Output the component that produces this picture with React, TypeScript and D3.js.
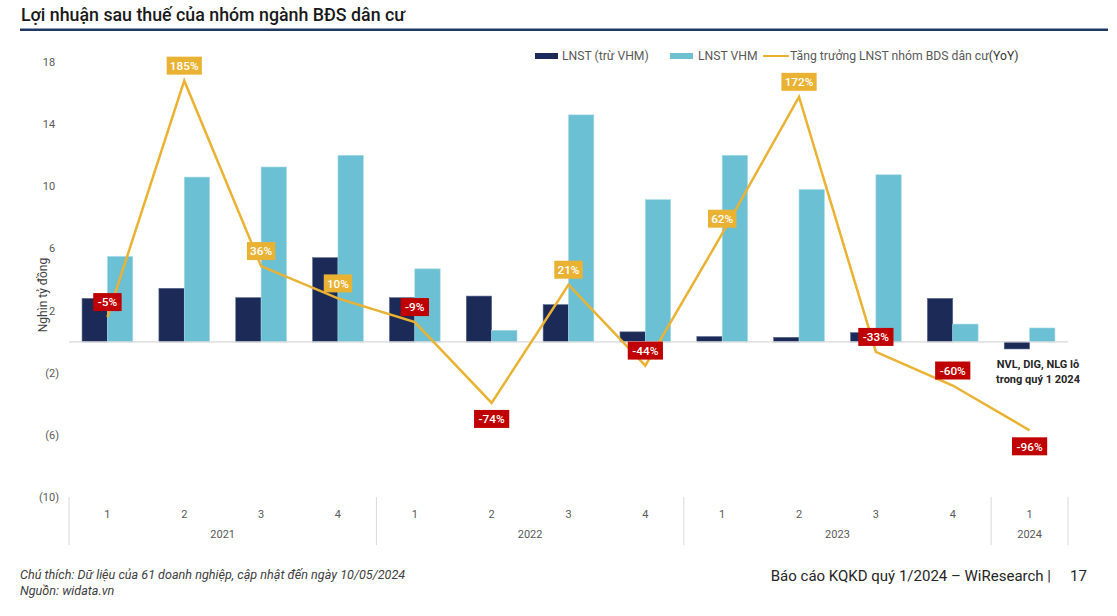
import React from "react";
import * as d3 from "d3";

const quarters = ["1", "2", "3", "4", "1", "2", "3", "4", "1", "2", "3", "4", "1"];
const years = ["2021", "2022", "2023", "2024"];
const yearOfQuarter = ["2021", "2021", "2021", "2021", "2022", "2022", "2022", "2022", "2023", "2023", "2023", "2023", "2024"];
const lnstExVHM = [2.8, 3.45, 2.85, 5.42, 2.85, 2.95, 2.4, 0.65, 0.35, 0.3, 0.6, 2.8, -0.45];
const lnstVHM = [5.5, 10.6, 11.25, 12.0, 4.7, 0.75, 14.6, 9.15, 12.0, 9.8, 10.75, 1.15, 0.9];
const growthYoY = [-5, 185, 36, 10, -9, -74, 21, -44, 62, 172, -33, -60, -96];
const growthLabelSide = ["above", "above", "above", "above", "above", "below", "above", "above", "above", "above", "above", "above", "below"];
const yTicks = [18, 14, 10, 6, 2, -2, -6, -10];

const seriesNames = ["LNST (trừ VHM)", "LNST VHM", "Tăng trưởng LNST nhóm BDS dân cư"];

const C_DARK = "#1C2A57";
const C_LIGHT = "#6CC0D3";
const C_GOLD = "#EAB233";
const C_RED = "#C00000";
const C_AXIS = "#595959";
const FONT = "Roboto, 'Liberation Sans', sans-serif";

export default function App() {
  const W = 1117;
  const H = 616;
  const x0 = 69;
  const x1 = 1068;
  const yTop = 62;
  const yBot = 497.5;

  const idx = quarters.map((_, i) => i);
  const x = d3.scaleBand<number>().domain(idx).range([x0, x1]).paddingInner(0).paddingOuter(0);
  const bw = x.bandwidth();
  const barW = bw * 0.33;
  const y = d3.scaleLinear().domain([-10, 18]).range([yBot, yTop]);
  const y2 = d3.scaleLinear().domain([-150, 200]).range([yBot, yTop]);
  const cx = (i: number) => (x(i) as number) + bw / 2;

  const line = d3
    .line<number>()
    .x((_, i) => cx(i))
    .y((d) => y2(d));

  const yearGroups = years.map((yr) => {
    const members = idx.filter((i) => yearOfQuarter[i] === yr);
    const start = x(members[0]) as number;
    const end = (x(members[members.length - 1]) as number) + bw;
    return { yr, start, end };
  });
  const separators = [x0, ...yearGroups.map((g) => g.end)];

  const fmtTick = (v: number) => (v < 0 ? `(${Math.abs(v)})` : `${v}`);

  return (
    <svg width={W} height={H} style={{ position: "absolute", left: 0, top: 0, background: "#fff" }} fontFamily={FONT}>
      {/* Title */}
      <text x={21} y={21} fontSize={17.8} fontWeight={500} fill="#1a1a1a">
        Lợi nhuận sau thuế của nhóm ngành BĐS dân cư
      </text>
      <rect x={20} y={28.5} width={1088} height={2.5} fill="#1F3864" />

      {/* Legend */}
      <g fontSize={12.2} fill={C_AXIS}>
        <rect x={535} y={53} width={23} height={6} fill={C_DARK} />
        <text x={562} y={60}>{seriesNames[0]}</text>
        <rect x={670} y={53} width={23} height={6} fill={C_LIGHT} />
        <text x={698} y={60}>{seriesNames[1]}</text>
        <line x1={763} x2={789} y1={56} y2={56} stroke={C_GOLD} strokeWidth={2} />
        <text x={790} y={60}>
          {seriesNames[2]}
          <tspan fill="#333">(YoY)</tspan>
        </text>
      </g>

      {/* Y axis ticks */}
      <g fontSize={11} fill={C_AXIS}>
        {yTicks.map((t) => (
          <text key={t} x={59} y={y(t)} dy="0.35em" textAnchor="end">
            {fmtTick(t)}
            {t >= 0 ? <tspan fillOpacity={0}>)</tspan> : null}
          </text>
        ))}
      </g>
      <text transform={`translate(47,${295}) rotate(-90)`} textAnchor="middle" fontSize={12} fill="#404040">
        Nghìn tỷ đồng
      </text>

      {/* Bars */}
      <g>
        {lnstExVHM.map((v, i) => (
          <rect
            key={"d" + i}
            x={cx(i) - barW}
            y={Math.min(y(v), y(0))}
            width={barW}
            height={Math.abs(y(v) - y(0))}
            fill={C_DARK}
            stroke="#5a6a8f"
            strokeWidth={0.6}
          />
        ))}
        {lnstVHM.map((v, i) => (
          <rect
            key={"l" + i}
            x={cx(i)}
            y={Math.min(y(v), y(0))}
            width={barW}
            height={Math.abs(y(v) - y(0))}
            fill={C_LIGHT}
            stroke="#a8dae6"
            strokeWidth={0.6}
          />
        ))}
      </g>

      {/* Zero line */}
      <line x1={x0} x2={x1} y1={y(0)} y2={y(0)} stroke="#D9D9D9" strokeWidth={1.2} />

      {/* Growth line */}
      <path d={line(growthYoY) || ""} fill="none" stroke={C_GOLD} strokeWidth={2.5} strokeLinejoin="miter" />

      {/* Growth labels */}
      <g fontSize={11.8} fontWeight={500} fill="#fff">
        {growthYoY.map((v, i) => {
          const txt = `${v}%`;
          const w = txt.length * 6.8 + 8;
          const h = 18;
          const py = y2(v);
          const cy = growthLabelSide[i] === "above" ? py - 15 : py + 16;
          return (
            <g key={"g" + i}>
              <rect x={cx(i) - w / 2} y={cy - h / 2} width={w} height={h} fill={v >= 0 ? C_GOLD : C_RED} />
              <text x={cx(i)} y={cy} dy="0.36em" textAnchor="middle">
                {txt}
              </text>
            </g>
          );
        })}
      </g>

      {/* Annotation */}
      <g fontSize={11} fontWeight={700} fill="#262626" textAnchor="middle">
        <text x={1038} y={368}>NVL, DIG, NLG lỗ</text>
        <text x={1038} y={383}>trong quý 1 2024</text>
      </g>

      {/* X axis */}
      <g stroke="#D9D9D9" strokeWidth={1}>
        {separators.map((s, i) => (
          <line key={"s" + i} x1={s} x2={s} y1={497} y2={545} />
        ))}
      </g>
      <g fontSize={11} fill={C_AXIS} textAnchor="middle">
        {quarters.map((q, i) => (
          <text key={"q" + i} x={cx(i)} y={518}>
            {q}
          </text>
        ))}
        {yearGroups.map((g) => (
          <text key={g.yr} x={(g.start + g.end) / 2} y={538}>
            {g.yr}
          </text>
        ))}
      </g>

      {/* Footer */}
      <g fontSize={12.6} fontStyle="italic" fill="#404040">
        <text x={20} y={579}>Chú thích: Dữ liệu của 61 doanh nghiệp, cập nhật đến ngày 10/05/2024</text>
        <text x={20} y={595}>Nguồn: widata.vn</text>
      </g>
      <text x={1051} y={581} fontSize={15} fill="#262626" textAnchor="end">
        Báo cáo KQKD quý 1/2024 – WiResearch |
      </text>
      <text x={1070} y={581} fontSize={15} fill="#262626">
        17
      </text>
    </svg>
  );
}
